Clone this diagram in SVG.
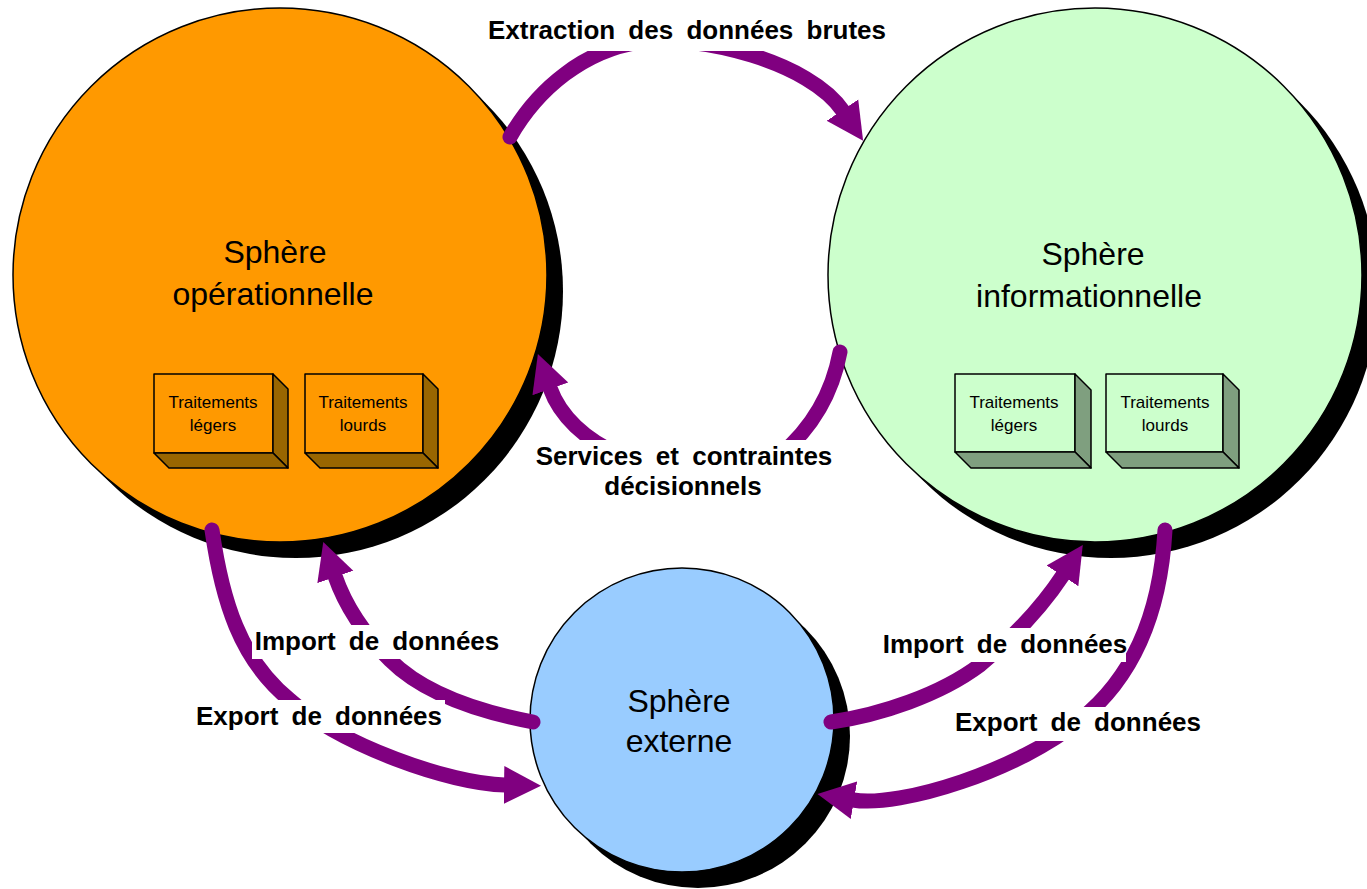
<svg xmlns="http://www.w3.org/2000/svg" width="1367" height="889" viewBox="0 0 1367 889">
<defs>
<style>
.shadow{fill:#000}
.ring{stroke:#000;stroke-width:1.5}
.orange{fill:#FF9900}
.green{fill:#CCFFCC}
.blue{fill:#99CCFF}
.odark{fill:#996600}
.gdark{fill:#7F9F7F}
.edge{stroke:#000;stroke-width:1.5;stroke-linejoin:round}
.title{font-family:"Liberation Sans",Arial,sans-serif;font-size:32px;fill:#000;text-anchor:middle}
.small{font-family:"Liberation Sans",Arial,sans-serif;font-size:17px;fill:#000;text-anchor:middle}
.lbl{font-family:"Liberation Sans",Arial,sans-serif;font-weight:bold;font-size:26px;word-spacing:6px;fill:#000;text-anchor:middle}
.bg{fill:#fff}
.conn{fill:none;stroke:#800080;stroke-width:15;stroke-linecap:round;marker-end:url(#ah)}
</style>
<marker id="ah" markerUnits="userSpaceOnUse" markerWidth="40" markerHeight="40" viewBox="0 -20 40 40" refX="1" refY="0" orient="auto">
<path d="M0,-19 L37,0 L0,19 z" fill="#800080"/>
</marker>
</defs>
<rect width="1367" height="889" fill="#fff"/>

<g id="sphere-operationnelle">
<circle class="shadow" cx="296" cy="291" r="267"/>
<circle class="orange ring" cx="280" cy="275" r="267"/>
<text class="title" x="275" y="263">Sphère</text>
<text class="title" x="273" y="305">opérationnelle</text>
</g>
<g id="op-traitements-legers">
<rect class="orange edge" x="154" y="374" width="119" height="79"/>
<polygon class="odark edge" points="273,374 288,389 288,468 273,453"/>
<polygon class="odark edge" points="154,453 273,453 288,468 169,468"/>
<text class="small" x="213" y="408">Traitements</text>
<text class="small" x="213" y="431">légers</text>
</g>
<g id="op-traitements-lourds">
<rect class="orange edge" x="305" y="374" width="118" height="79"/>
<polygon class="odark edge" points="423,374 438,389 438,468 423,453"/>
<polygon class="odark edge" points="305,453 423,453 438,468 320,468"/>
<text class="small" x="363" y="408">Traitements</text>
<text class="small" x="363" y="431">lourds</text>
</g>

<g id="sphere-informationnelle">
<circle class="shadow" cx="1111" cy="291" r="267"/>
<circle class="green ring" cx="1095" cy="275" r="267"/>
<text class="title" x="1093" y="265">Sphère</text>
<text class="title" x="1089" y="307">informationnelle</text>
</g>
<g id="info-traitements-legers">
<rect class="green edge" x="955" y="374" width="120" height="78"/>
<polygon class="gdark edge" points="1075,374 1091,390 1091,468 1075,452"/>
<polygon class="gdark edge" points="955,452 1075,452 1091,468 971,468"/>
<text class="small" x="1014" y="408">Traitements</text>
<text class="small" x="1014" y="431">légers</text>
</g>
<g id="info-traitements-lourds">
<rect class="green edge" x="1106" y="374" width="117" height="78"/>
<polygon class="gdark edge" points="1223,374 1239,390 1239,468 1223,452"/>
<polygon class="gdark edge" points="1106,452 1223,452 1239,468 1122,468"/>
<text class="small" x="1165" y="408">Traitements</text>
<text class="small" x="1165" y="431">lourds</text>
</g>

<g id="sphere-externe">
<circle class="shadow" cx="698" cy="736" r="152"/>
<circle class="blue ring" cx="682" cy="720" r="152"/>
<text class="title" x="679" y="712">Sphère</text>
<text class="title" x="679" y="752">externe</text>
</g>

<g id="connectors">
<path class="conn" d="M510,137 C538,88 585,50 640,42 C700,34 810,62 843,111"/>
<path class="conn" d="M840,352 C832,395 812,428 780,455 L620,455 C585,440 560,416 550,388"/>
<path class="conn" d="M212,530 C222,600 240,660 290,700 C340,745 450,784 505,785"/>
<path class="conn" d="M533,722 C470,710 420,690 390,660 C365,635 345,605 335,576"/>
<path class="conn" d="M831,722 C880,715 940,695 980,665 C1010,640 1040,610 1063,575"/>
<path class="conn" d="M1165,530 C1160,620 1130,680 1080,720 C1020,770 900,808 853,800"/>
</g>

<g id="labels">
<rect class="bg" x="484" y="10" width="406" height="41"/>
<text class="lbl" x="687" y="39">Extraction des données brutes</text>
<rect class="bg" x="530" y="440" width="310" height="62"/>
<text class="lbl" x="684" y="465">Services et contraintes</text>
<text class="lbl" x="683" y="495">décisionnels</text>
<rect class="bg" x="252" y="625" width="249" height="34"/>
<text class="lbl" x="377" y="650">Import de données</text>
<rect class="bg" x="193" y="700" width="252" height="33"/>
<text class="lbl" x="319" y="725">Export de données</text>
<rect class="bg" x="881" y="628" width="245" height="34"/>
<text class="lbl" x="1005" y="653">Import de données</text>
<rect class="bg" x="952" y="707" width="252" height="34"/>
<text class="lbl" x="1078" y="731">Export de données</text>
</g>
</svg>
